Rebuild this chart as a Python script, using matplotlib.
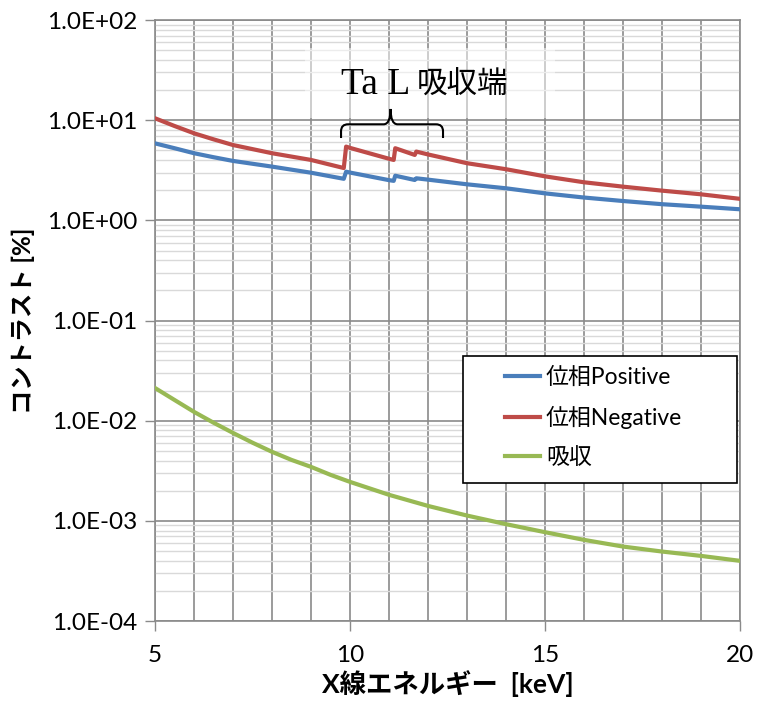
import matplotlib
matplotlib.use("Agg")
import matplotlib.pyplot as plt
import numpy as np
from matplotlib.path import Path
from matplotlib.patches import PathPatch, Rectangle
from matplotlib.ticker import FixedLocator, FuncFormatter, LogLocator, NullFormatter

plt.rcParams['font.family'] = ['Lato', 'Noto Sans CJK JP', 'DejaVu Sans']

# X-ray energy [keV]; Ta L3 / L2 / L1 edges appear as repeated energies
energy_phase = [5, 5.5, 6, 6.5, 7, 8, 9, 9.84, 9.9, 10, 11, 11.12, 11.16, 11.66, 11.70,
                12, 13, 14, 15, 16, 17, 18, 19, 20]
phase_positive = [5.87, 5.25, 4.68, 4.27, 3.92, 3.44, 2.99, 2.60, 3.06, 3.00, 2.52,
                  2.48, 2.79, 2.53, 2.63, 2.55, 2.29, 2.09, 1.86, 1.69, 1.56, 1.45,
                  1.37, 1.29]
phase_negative = [10.45, 8.75, 7.40, 6.44, 5.65, 4.68, 4.01, 3.33, 5.45, 5.29, 4.12,
                  4.01, 5.25, 4.50, 4.86, 4.55, 3.72, 3.24, 2.75, 2.40, 2.17, 1.98,
                  1.82, 1.64]

energy_abs = [5, 5.5, 6, 6.5, 7, 7.5, 8, 8.5, 9, 9.5, 10, 11, 12, 13, 14, 15, 16, 17,
              18, 19, 20]
absorption = [0.0212, 0.0161, 0.01225, 0.00955, 0.00755, 0.00603, 0.00489, 0.00406,
              0.00346, 0.00288, 0.00245, 0.00182, 0.00141, 0.00113, 0.000927,
              0.000771, 0.000646, 0.000554, 0.000494, 0.000447, 0.000399]

series_labels = ['位相Positive', '位相Negative', '吸収']
series_colors = ['#4A7EBB', '#BE4B48', '#98B954']

edge_element = 'Ta L'
edge_word = '吸収端'
xlabel = 'X線エネルギー  [keV]'
ylabel = 'コントラスト [%]'

fig = plt.figure(figsize=(7.57, 7.05), dpi=100)
ax = fig.add_axes([0.2048, 0.1191, 0.9775 - 0.2048, 0.9716 - 0.1191])

ax.set_yscale('log')
ax.set_xlim(5, 20)
ax.set_ylim(1e-4, 1e2)

# grid: every keV vertically, decades plus light minor lines horizontally
ax.set_axisbelow(True)
ax.xaxis.set_major_locator(FixedLocator([5, 10, 15, 20]))
ax.xaxis.set_minor_locator(FixedLocator(np.arange(5, 21, 1)))
ax.yaxis.set_major_locator(LogLocator(base=10, numticks=20))
ax.yaxis.set_minor_locator(LogLocator(base=10, subs=np.arange(2, 10), numticks=20))
ax.yaxis.set_minor_formatter(NullFormatter())
ax.yaxis.set_major_formatter(FuncFormatter(lambda v, p: f"{v:.1E}"))

ax.grid(which='major', axis='both', color='#8A8A8A', linewidth=1.2)
ax.grid(which='minor', axis='x', color='#8A8A8A', linewidth=1.2)
ax.grid(which='minor', axis='y', color='#D9D9D9', linewidth=1.0)

ax.tick_params(axis='both', which='major', length=7, width=1, color='#8A8A8A',
               labelsize=17.5)
ax.tick_params(axis='y', which='major', pad=6)
ax.tick_params(axis='x', which='major', pad=10)
ax.tick_params(axis='x', which='minor', length=0)
ax.tick_params(axis='y', which='minor', length=0)

for side in ['left', 'bottom', 'top', 'right']:
    ax.spines[side].set_color('#8A8A8A')
    ax.spines[side].set_linewidth(1.2)

# faint backing behind the edge annotation
ax.add_patch(Rectangle((8.85, 10.5), 6.4, 52.6 - 10.5, facecolor='white',
                       edgecolor='none', alpha=0.5, zorder=1))

l1, = ax.plot(energy_phase, phase_positive, color=series_colors[0], lw=3.0,
              label=series_labels[0], zorder=3, solid_joinstyle='round')
l2, = ax.plot(energy_phase, phase_negative, color=series_colors[1], lw=3.0,
              label=series_labels[1], zorder=3, solid_joinstyle='round')
l3, = ax.plot(energy_abs, absorption, color=series_colors[2], lw=3.0,
              label=series_labels[2], zorder=3, solid_joinstyle='round')

# brace spanning the L edges (built in log10 space)
bx0, bx1, bxc = 9.77, 12.385, 11.04
ly_h, ly_end, ly_cusp = 0.959, 0.822, 1.112
rx, ry = 0.18, 0.07
verts = [
    (bx0, ly_end), (bx0, ly_h - ry),
    (bx0, ly_h), (bx0 + rx, ly_h),
    (bxc - rx, ly_h),
    (bxc, ly_h), (bxc, ly_cusp),
    (bxc, ly_h), (bxc + rx, ly_h),
    (bx1 - rx, ly_h),
    (bx1, ly_h), (bx1, ly_h - ry),
    (bx1, ly_end),
]
codes = [Path.MOVETO, Path.LINETO,
         Path.CURVE3, Path.CURVE3,
         Path.LINETO,
         Path.CURVE3, Path.CURVE3,
         Path.CURVE3, Path.CURVE3,
         Path.LINETO,
         Path.CURVE3, Path.CURVE3,
         Path.LINETO]
verts = [(x, 10 ** y) for x, y in verts]
ax.add_patch(PathPatch(Path(verts, codes), facecolor='none', edgecolor='black',
                       lw=1.5, zorder=4))

ax.text(11.54, 18.4, edge_element, ha='right', va='baseline', fontsize=27,
        family='Liberation Serif', zorder=5)
ax.text(11.72, 18.4, edge_word, ha='left', va='baseline', fontsize=22,
        family='Noto Sans CJK JP', zorder=5)

# legend box with entries inside
ax.add_patch(Rectangle((0.5265, 0.2296), 0.995 - 0.5265, 0.441 - 0.2296,
                       transform=ax.transAxes, facecolor='white', edgecolor='black',
                       lw=1.2, zorder=6))
leg = ax.legend(handles=[l1, l2, l3], loc='upper left',
                bbox_to_anchor=(0.586, 0.434), frameon=False, fontsize=16.5,
                handlelength=1.55, handletextpad=0.25, labelspacing=0.78,
                borderaxespad=0, borderpad=0.3)
leg.set_zorder(7)

ax.set_xlabel(xlabel, fontsize=19, fontweight='bold', labelpad=3)
ax.set_ylabel(ylabel, fontsize=17.5, fontweight='bold', labelpad=8)

fig.savefig('out.png', dpi=100)
